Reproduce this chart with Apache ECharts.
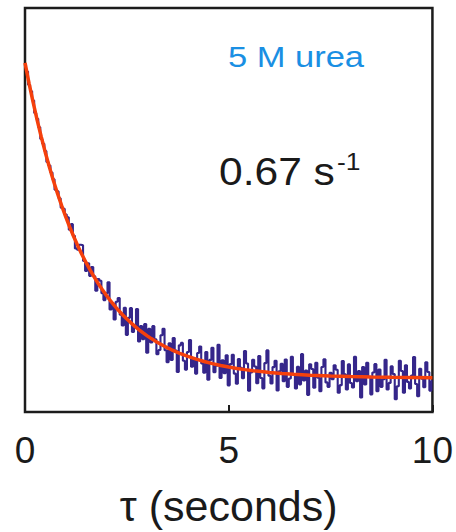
<!DOCTYPE html>
<html>
<head>
<meta charset="utf-8">
<script src="https://cdn.jsdelivr.net/npm/echarts@6/dist/echarts.min.js"></script>
<style>
  html, body { margin: 0; padding: 0; background: #fff; }
  #chart { width: 456px; height: 532px; }
</style>
</head>
<body>
<div id="chart"></div>
<script>
// x axis
const xTicks = [0, 5, 10];
const xName = 'τ (seconds)';
const traceDt = 0.05; // sampling interval of the trace (s)

// noisy trace (arbitrary units, sampled every 0.05 s from 0 to 10 s)
const traceValues = [
  // 0.00 - 1.00
  86.0, 84.3, 81.0, 79.4, 77.1, 74.0, 72.6, 70.5, 67.6, 66.4,
  64.6, 61.9, 61.0, 59.3, 57.6, 55.0, 54.6, 52.9, 50.6, 50.3,
  48.9,
  // 1.05 - 2.00
  48.2, 45.1, 46.5, 43.6, 40.5, 40.2, 41.4, 41.3, 37.4, 34.9,
  36.8, 33.7, 35.9, 33.6, 30.0, 32.9, 32.5, 29.4, 27.7, 29.4,
  // 2.05 - 3.50
  32.1, 25.4, 26.9, 22.9, 27.3, 28.2, 24.1, 21.4, 25.8, 19.1,
  23.3, 25.7, 19.8, 20.9, 25.5, 17.45, 21.3, 18.0, 21.8, 14.65,
  20.6, 17.2, 21.25, 18.0, 14.3, 15.35, 19.0, 20.6, 15.3, 12.3,
  // 3.55 - 5.00
  17.0, 12.9, 18.3, 15.2, 9.9, 16.5, 17.1, 12.7, 10.5, 14.85,
  17.8, 11.2, 13.25, 9.5, 14.6, 16.2, 12.0, 9.7, 14.85, 8.0,
  12.9, 15.9, 9.85, 11.45, 16.65, 8.4, 12.8, 9.6, 14.05, 6.6,
  // 5.05 - 7.00
  11.85, 14.16, 9.5, 7.0, 13.1, 10.94, 8.37, 15.09, 12.02, 5.26,
  9.8, 12.93, 11.27, 7.11, 13.85, 8.4, 5.85, 12.1, 15.25, 9.0,
  7.05, 11.11, 12.66, 5.32, 10.08, 11.95, 7.6, 12.97, 6.23, 8.3,
  13.67, 9.34, 5.8, 11.17, 6.85, 14.32, 7.79, 10.26, 4.24, 11.82,
  // 7.05 - 7.50
  10.65, 6.03, 12.2, 8.48, 5.16, 11.15, 13.04, 7.33, 6.22, 9.71,
  // 7.55 - 10.00
  8.1, 11.58, 10.47, 4.76, 6.64, 12.63, 9.31, 5.6, 11.78, 7.17,
  6.06, 13.65, 7.64, 10.13, 3.62, 11.11, 6.8, 12.19, 8.68, 4.37,
  9.76, 11.85, 5.14, 10.53, 6.22, 8.12, 12.91, 5.6, 7.2, 11.29,
  9.38, 3.18, 6.37, 12.67, 10.16, 4.76, 11.55, 7.45, 5.84, 9.04,
  13.63, 6.93, 3.92, 10.72, 8.22, 6.11, 12.31, 9.91, 5.3, 7.7
];

// fitted single-exponential curve (0.67 s^-1)
const fitTimes = [
  0.0, 0.1, 0.2, 0.3, 0.4, 0.5, 0.6, 0.7, 0.8, 0.9,
  1.0, 1.1, 1.2, 1.3, 1.4, 1.5, 1.6, 1.7, 1.8, 1.9,
  2.0, 2.1, 2.2, 2.3, 2.4, 2.5, 2.6, 2.7, 2.8, 2.9,
  3.0, 3.1, 3.2, 3.3, 3.4, 3.5, 3.6, 3.7, 3.8, 3.9,
  4.0, 4.2, 4.4, 4.6, 4.8, 5.0, 5.2, 5.4, 5.6, 5.8,
  6.0, 6.3, 6.6, 7.0, 7.5, 8.0, 8.5, 9.0, 10.0
];
const fitValues = [
  86.40, 81.35, 76.62, 72.20, 68.06, 64.19, 60.58, 57.20, 54.04, 51.08,
  48.31, 45.73, 43.31, 41.05, 38.93, 36.96, 35.11, 33.38, 31.75, 30.24,
  28.83, 27.50, 26.26, 25.11, 24.02, 23.01, 22.07, 21.18, 20.35, 19.58,
  18.85, 18.17, 17.54, 16.95, 16.40, 15.88, 15.40, 14.94, 14.52, 14.12,
  13.75, 13.08, 12.49, 11.98, 11.53, 11.14, 10.79, 10.49, 10.23, 10.00,
  9.80, 9.55, 9.34, 9.12, 8.91, 8.77, 8.67, 8.59, 8.50
];

// annotations
const conditionLabel = '5 M urea';
const rateLabel = '0.67 s';
const rateUnitSup = '-1';

const traceData = traceValues.map((v, i) => [+(i * traceDt).toFixed(2), v]);
const fitData = fitTimes.map((t, i) => [t, fitValues[i]]);

const chart = echarts.init(document.getElementById('chart'), null, { renderer: 'svg' });
const FONT = '"Liberation Sans", Arial, Helvetica, sans-serif';

chart.setOption({
  animation: false,
  backgroundColor: '#ffffff',
  grid: {
    left: 25, right: 23, top: 8, bottom: 119,
    show: true, borderColor: '#1c1c1c', borderWidth: 2.5, backgroundColor: 'transparent'
  },
  xAxis: {
    type: 'value',
    min: xTicks[0], max: xTicks[xTicks.length - 1], interval: 5,
    name: xName,
    nameLocation: 'middle',
    nameGap: 72,
    nameTextStyle: { fontFamily: FONT, fontSize: 43, color: '#1a1a1a' },
    axisLine: { show: false },
    axisTick: { show: true, inside: true, length: 7, lineStyle: { color: '#1c1c1c', width: 2 } },
    axisLabel: { fontFamily: FONT, fontSize: 37, color: '#1a1a1a', margin: 20,
                 formatter: v => String(v) },
    splitLine: { show: false }
  },
  yAxis: {
    type: 'value', min: 0, max: 100,
    axisLine: { show: false }, axisTick: { show: false },
    axisLabel: { show: false }, splitLine: { show: false }
  },
  series: [
    {
      type: 'line', data: traceData, showSymbol: false, step: 'middle',
      lineStyle: { color: '#35268a', width: 2.1 }, z: 2
    },
    {
      type: 'line', data: fitData, showSymbol: false, smooth: false,
      lineStyle: { color: '#f5400c', width: 3.5 }, z: 3
    }
  ],
  graphic: [
    { type: 'text', x: 296, y: 57, scaleX: 1.15,
      style: { text: conditionLabel, font: '30px ' + FONT, fill: '#1a8fe3',
               align: 'center', verticalAlign: 'middle' } },
    { type: 'text', x: 219, y: 172, scaleX: 1.12,
      style: { text: rateLabel, font: '38px ' + FONT, fill: '#1a1a1a',
               align: 'left', verticalAlign: 'middle' } },
    { type: 'text', x: 337, y: 161, scaleX: 1.1,
      style: { text: rateUnitSup, font: '24px ' + FONT, fill: '#1a1a1a',
               align: 'left', verticalAlign: 'middle' } }
  ]
});
</script>
</body>
</html>
